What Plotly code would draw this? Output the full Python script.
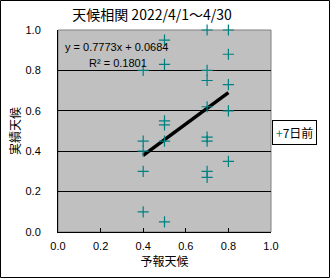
import plotly.graph_objects as go

# data
forecast = [0.4, 0.4, 0.4, 0.4, 0.4,
            0.5, 0.5, 0.5, 0.5, 0.5, 0.5,
            0.7, 0.7, 0.7, 0.7, 0.7, 0.7, 0.7, 0.7,
            0.8, 0.8, 0.8, 0.8, 0.8]
actual = [0.8, 0.45, 0.4, 0.3, 0.1,
          0.95, 0.83, 0.55, 0.53, 0.45, 0.05,
          1.0, 0.8, 0.75, 0.62, 0.47, 0.45, 0.3, 0.27,
          1.0, 0.88, 0.73, 0.6, 0.35]
slope = 0.7773
intercept = 0.0684
r2 = 0.1801
series_name = "7日前"
tick_vals = [0.0, 0.2, 0.4, 0.6, 0.8, 1.0]
tick_text = ["0.0", "0.2", "0.4", "0.6", "0.8", "1.0"]

xmin, xmax = min(forecast), max(forecast)
trend_x = [xmin, xmax]
trend_y = [slope * v + intercept for v in trend_x]

TEAL = "#008080"

fig = go.Figure()
fig.add_trace(go.Scatter(x=trend_x, y=trend_y, mode="lines",
                         line=dict(color="black", width=3.5),
                         showlegend=False, hoverinfo="skip"))
fig.add_trace(go.Scatter(x=forecast, y=actual, mode="markers", name=series_name,
                         marker=dict(symbol="cross-thin", size=8,
                                     line=dict(color=TEAL, width=1.2),
                                     color=TEAL),
                         showlegend=False, cliponaxis=False))

W, H = 330, 278
L, R, T, B = 58, 59, 30, 46
pw, ph = W - L - R, H - T - B

def px(xp):
    return (xp - L) / pw

def py(yp):
    return (H - B - yp) / ph

font_j = "Noto Sans CJK JP, sans-serif"
font_n = "Liberation Sans, Arial, sans-serif"

fig.update_layout(
    width=W, height=H,
    margin=dict(l=L, r=R, t=T, b=B, autoexpand=False),
    paper_bgcolor="white", plot_bgcolor="#C0C0C0",
    showlegend=False,
    xaxis=dict(range=[0, 1], tickvals=tick_vals, ticktext=tick_text,
               showgrid=False, zeroline=False, showline=True, linecolor="black",
               linewidth=1, ticks="inside", ticklen=4, tickcolor="black",
               tickfont=dict(family=font_n, size=11, color="black"),
               ticklabelstandoff=4, automargin=False,
               title=dict(text="予報天候", font=dict(family=font_j, size=12, color="black"),
                          standoff=6)),
    yaxis=dict(range=[0, 1], tickvals=tick_vals, ticktext=tick_text,
               showgrid=True, gridcolor="black", gridwidth=1, zeroline=False,
               showline=True, linecolor="black", linewidth=1, ticks="",
               tickfont=dict(family=font_n, size=11, color="black"),
               ticklabelstandoff=14, automargin=False,
               title=dict(text="実績天候", font=dict(family=font_j, size=12, color="black"),
                          standoff=2)),
    title=dict(text="天候相関 2022/4/1～4/30", x=152 / W, xanchor="center",
               y=1 - 15 / H, yanchor="middle",
               font=dict(family=font_j, size=14, color="black")),
    shapes=[
        dict(type="rect", xref="paper", yref="paper",
             x0=px(0.5), x1=px(329.5), y0=py(277.5), y1=py(0.5),
             line=dict(color="black", width=1), layer="below"),
        dict(type="rect", xref="paper", yref="paper",
             x0=0, x1=1, y0=0, y1=1,
             line=dict(color="#808080", width=1), layer="below"),
    ],
    annotations=[
        dict(text=f"y = {slope}x + {intercept}", xref="paper", yref="paper",
             x=px(63), y=py(47), xanchor="left", yanchor="middle", showarrow=False,
             font=dict(family=font_n, size=11, color="black")),
        dict(text=f"R² = {r2}", xref="paper", yref="paper",
             x=px(87), y=py(63), xanchor="left", yanchor="middle", showarrow=False,
             font=dict(family=font_n, size=11, color="black")),
        dict(text=f"<span style='color:{TEAL}'>+</span>{series_name}",
             xref="paper", yref="paper", x=px(272), y=py(132),
             xanchor="left", yanchor="middle", showarrow=False,
             bordercolor="black", borderwidth=1, borderpad=3, bgcolor="white",
             font=dict(family=font_j, size=12, color="black")),
    ],
)

fig.write_html("out.html")
